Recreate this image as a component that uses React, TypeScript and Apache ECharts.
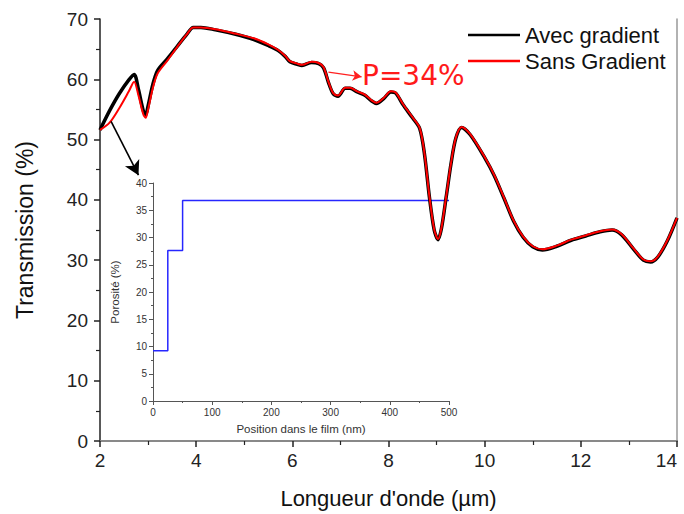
import React, { useEffect, useRef } from "react";
import * as echarts from "echarts";

const wavelength = [2.0, 2.2, 2.4, 2.6, 2.71, 2.8, 2.9, 2.95, 3.0, 3.1, 3.2, 3.4, 3.6, 3.8, 3.94, 4.1, 4.4, 4.8, 5.2, 5.5, 5.7, 5.85, 5.95, 6.1, 6.2, 6.4, 6.55, 6.65, 6.75, 6.85, 6.95, 7.1, 7.2, 7.35, 7.5, 7.65, 7.75, 7.9, 8.05, 8.15, 8.3, 8.5, 8.65, 8.75, 8.85, 8.95, 9.03, 9.1, 9.2, 9.3, 9.4, 9.52, 9.7, 10.0, 10.2, 10.4, 10.6, 10.8, 11.0, 11.2, 11.5, 11.8, 12.1, 12.4, 12.65, 12.85, 13.1, 13.3, 13.45, 13.6, 13.8, 14.0];

const avecGradient = [51.6, 54.8, 57.6, 59.9, 60.8, 58.3, 54.8, 54.1, 55.6, 59.2, 61.5, 63.4, 65.4, 67.4, 68.6, 68.6, 68.2, 67.5, 66.6, 65.6, 64.8, 63.8, 62.9, 62.5, 62.3, 62.8, 62.6, 61.9, 59.5, 57.6, 57.2, 58.5, 58.5, 57.9, 57.4, 56.4, 56.0, 56.8, 57.9, 57.7, 55.8, 53.6, 51.8, 47.5, 40.5, 35.0, 33.4, 35.2, 40.5, 46.0, 50.2, 52.0, 50.8, 47.0, 44.0, 40.3, 36.5, 33.8, 32.2, 31.7, 32.3, 33.3, 34.0, 34.7, 35.0, 34.2, 31.8, 30.0, 29.7, 30.5, 33.2, 37.0];

const sansGradient = [51.6, 52.8, 55.2, 58.0, 59.6, 57.3, 54.2, 53.6, 55.0, 58.6, 61.0, 63.1, 65.3, 67.4, 68.6, 68.6, 68.3, 67.6, 66.8, 65.8, 64.9, 63.9, 63.0, 62.6, 62.4, 62.9, 62.7, 62.0, 59.6, 57.7, 57.3, 58.6, 58.6, 58.0, 57.5, 56.5, 56.1, 56.9, 58.0, 57.8, 55.9, 53.7, 51.9, 47.6, 40.6, 35.1, 33.5, 35.3, 40.6, 46.1, 50.3, 52.1, 50.9, 47.1, 44.1, 40.4, 36.6, 33.9, 32.3, 31.8, 32.4, 33.4, 34.1, 34.8, 35.1, 34.3, 31.9, 30.1, 29.8, 30.6, 33.3, 37.0];

const positionNm = [0, 25, 50, 500];
const porosite = [9.2, 27.6, 36.8, 36.7];

const xTicks = { min: 2, max: 14, interval: 2 };
const yTicks = { min: 0, max: 70, interval: 10 };

const FONT = "Liberation Sans, Arial, sans-serif";

export default function App() {
  const ref = useRef<HTMLDivElement>(null);
  useEffect(() => {
    if (!ref.current) return;
    document.body.style.margin = "0";
    const chart = echarts.init(ref.current, null, { renderer: "svg" });
    const avec = wavelength.map((w, i) => [w, avecGradient[i]]);
    const sans = wavelength.map((w, i) => [w, sansGradient[i]]);
    const poro = positionNm.map((p, i) => [p, porosite[i]]);

    const option: any = {
      animation: false,
      backgroundColor: "#ffffff",
      textStyle: { fontFamily: FONT },
      grid: [
        { left: 100, width: 577, top: 19, height: 422, outerBoundsMode: "none", containLabel: false },
        { left: 153, top: 183, width: 296, height: 218, outerBoundsMode: "none", containLabel: false },
      ],
      legend: {
        data: ["Avec gradient", "Sans Gradient"],
        orient: "vertical",
        left: 468,
        top: 24,
        padding: 0,
        itemGap: 4,
        itemWidth: 52,
        itemHeight: 2.5,
        icon: "rect",
        textStyle: { fontSize: 22, color: "#111", fontFamily: FONT, lineHeight: 22 },
      },
      xAxis: [
        {
          type: "value",
          gridIndex: 0,
          min: xTicks.min,
          max: xTicks.max,
          interval: xTicks.interval,
          name: "Longueur d'onde (µm)",
          nameLocation: "middle",
          nameGap: 46,
          nameTextStyle: { fontSize: 22, color: "#111", fontFamily: FONT },
          axisLine: { show: true, lineStyle: { color: "#222", width: 1.5 } },
          axisTick: { show: true, length: 6, lineStyle: { color: "#222", width: 1.5 } },
          minorTick: { show: true, splitNumber: 2, length: 4, lineStyle: { color: "#222", width: 1.2 } },
          axisLabel: { fontSize: 19, color: "#222", margin: 10, fontFamily: FONT, alignMaxLabel: "right" },
          splitLine: { show: false },
        },
        {
          type: "value",
          gridIndex: 0,
          position: "top",
          min: xTicks.min,
          max: xTicks.max,
          axisLine: { show: true, lineStyle: { color: "#999", width: 1.5 } },
          axisTick: { show: false },
          axisLabel: { show: false },
          splitLine: { show: false },
        },
        {
          type: "value",
          gridIndex: 1,
          min: 0,
          max: 500,
          interval: 100,
          name: "Position dans le film (nm)",
          nameLocation: "middle",
          nameGap: 22,
          nameTextStyle: { fontSize: 11.5, color: "#333", fontFamily: FONT },
          axisLine: { show: true, lineStyle: { color: "#555", width: 1 } },
          axisTick: { show: true, length: 4, lineStyle: { color: "#555" } },
          minorTick: { show: true, splitNumber: 2, length: 2, lineStyle: { color: "#555" } },
          axisLabel: { fontSize: 10, color: "#333", margin: 6, fontFamily: FONT },
          splitLine: { show: false },
        },
      ],
      yAxis: [
        {
          type: "value",
          gridIndex: 0,
          min: yTicks.min,
          max: yTicks.max,
          interval: yTicks.interval,
          name: "Transmission (%)",
          nameLocation: "middle",
          nameGap: 64,
          nameTextStyle: { fontSize: 23, color: "#111", fontFamily: FONT },
          axisLine: { show: true, lineStyle: { color: "#222", width: 1.5 } },
          axisTick: { show: true, length: 6, lineStyle: { color: "#222", width: 1.5 } },
          minorTick: { show: true, splitNumber: 2, length: 4, lineStyle: { color: "#222", width: 1.2 } },
          axisLabel: { fontSize: 19, color: "#222", margin: 12, fontFamily: FONT },
          splitLine: { show: false },
        },
        {
          type: "value",
          gridIndex: 0,
          position: "right",
          min: yTicks.min,
          max: yTicks.max,
          axisLine: { show: true, lineStyle: { color: "#999", width: 1.5 } },
          axisTick: { show: false },
          axisLabel: { show: false },
          splitLine: { show: false },
        },
        {
          type: "value",
          gridIndex: 1,
          min: 0,
          max: 40,
          interval: 5,
          name: "Porosité (%)",
          nameLocation: "middle",
          nameGap: 32,
          nameTextStyle: { fontSize: 11.5, color: "#333", fontFamily: FONT },
          axisLine: { show: true, lineStyle: { color: "#555", width: 1 } },
          axisTick: { show: true, length: 4, lineStyle: { color: "#555" } },
          minorTick: { show: true, splitNumber: 2, length: 2, lineStyle: { color: "#555" } },
          axisLabel: { fontSize: 10, color: "#333", margin: 6, fontFamily: FONT },
          splitLine: { show: false },
        },
      ],
      series: [
        {
          name: "Porosité",
          type: "line",
          xAxisIndex: 2,
          yAxisIndex: 2,
          data: poro,
          step: "end",
          symbol: "none",
          lineStyle: { color: "#2626ff", width: 1.5 },
          z: 1,
        },
        {
          name: "Avec gradient",
          type: "line",
          xAxisIndex: 0,
          yAxisIndex: 0,
          data: avec,
          smooth: 0.3,
          symbol: "none",
          color: "#000000",
          lineStyle: { color: "#000000", width: 3.5 },
          z: 3,
          markLine: {
            silent: true,
            symbol: ["none", "arrow"],
            symbolSize: [12, 14],
            label: { show: false },
            lineStyle: { color: "#000", width: 1.6, type: "solid" },
            data: [[{ coord: [2.23, 53.0] }, { coord: [2.8, 44.1] }]],
          },
        },
        {
          name: "Sans Gradient",
          type: "line",
          xAxisIndex: 0,
          yAxisIndex: 0,
          data: sans,
          smooth: 0.3,
          symbol: "none",
          color: "#ff0000",
          lineStyle: { color: "#ff0000", width: 2 },
          z: 4,
          markLine: {
            silent: true,
            symbol: ["none", "arrow"],
            symbolSize: [8, 9],
            label: { show: false },
            lineStyle: { color: "#ff2020", width: 1.2, type: "solid" },
            data: [[{ coord: [6.75, 61.2] }, { coord: [7.44, 60.4] }]],
          },
        },
      ],
      graphic: [
        {
          type: "text",
          left: 362,
          top: 61,
          z: 10,
          style: {
            text: "P=34%",
            fill: "#ff1a1a",
            fontSize: 28,
            fontFamily: "DejaVu Sans, sans-serif",
          },
        },
      ],
    };
    chart.setOption(option);
    return () => chart.dispose();
  }, []);
  return (
    <div
      ref={ref}
      style={{ position: "fixed", left: 0, top: 0, width: 684, height: 514, background: "#fff" }}
    />
  );
}
